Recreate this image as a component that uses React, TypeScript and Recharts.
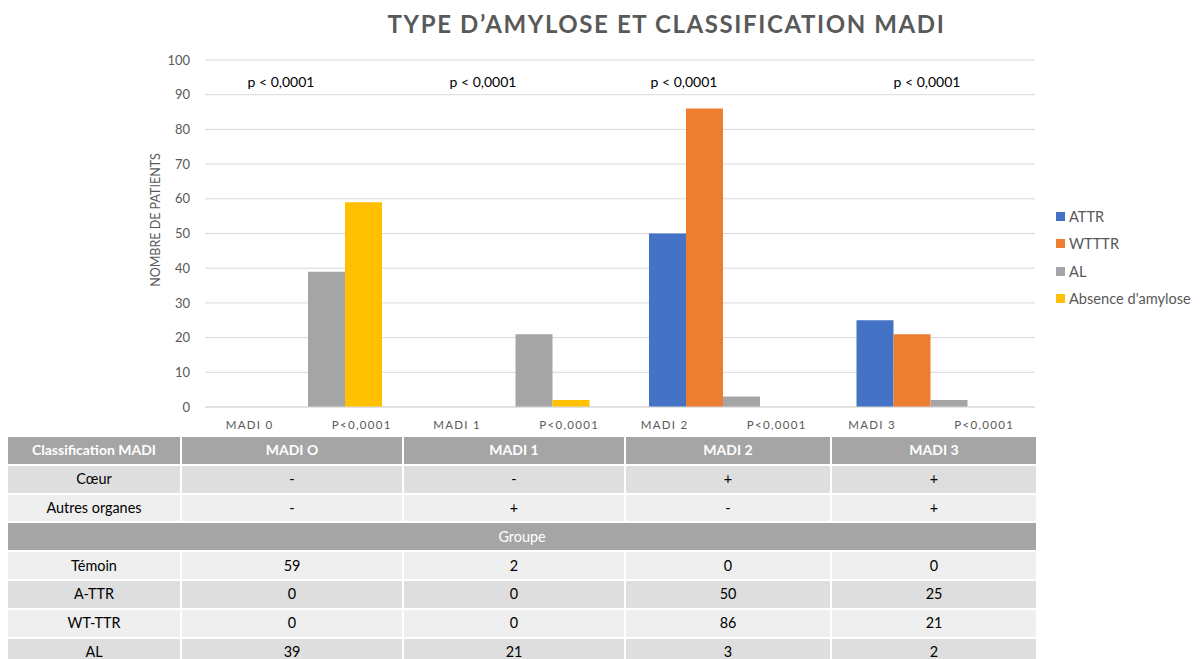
import React from "react";
import { Bar, BarChart, CartesianGrid, Legend, XAxis, YAxis } from "recharts";

const categories = ["MADI 0", "MADI 1", "MADI 2", "MADI 3"];
const axisPValues = ["P<0,0001", "P<0,0001", "P<0,0001", "P<0,0001"];
const topPValues = ["p < 0,0001", "p < 0,0001", "p < 0,0001", "p < 0,0001"];
const attr = [0, 0, 50, 25];
const wtttr = [0, 0, 86, 21];
const al = [39, 21, 3, 2];
const absence = [59, 2, 0, 0];
const yTicks = [0, 10, 20, 30, 40, 50, 60, 70, 80, 90, 100];

const tableHeaders = ["MADI O", "MADI 1", "MADI 2", "MADI 3"];
const coeur = ["-", "-", "+", "+"];
const autresOrganes = ["-", "+", "-", "+"];

const series = [
  { key: "attr", name: "ATTR", color: "#4472C4" },
  { key: "wtttr", name: "WTTTR", color: "#ED7D31" },
  { key: "al", name: "AL", color: "#A5A5A5" },
  { key: "absence", name: "Absence d'amylose", color: "#FFC000" },
];

const data = categories.map((c, i) => ({
  category: c,
  attr: attr[i],
  wtttr: wtttr[i],
  al: al[i],
  absence: absence[i],
}));

const FONT = "Lato, 'Open Sans', sans-serif";
const GREY_TEXT = "#595959";

// positions of the free-floating p-value text boxes (page px)
const pBoxX = [281, 483, 684, 927];

function CategoryTick(props: any) {
  const { x, y, index } = props;
  const style = { fontFamily: FONT, fontSize: 11.5, letterSpacing: 1.3, fill: GREY_TEXT };
  return (
    <g>
      <text x={x - 83} y={y + 22} textAnchor="start" style={style}>
        {categories[index]}
      </text>
      <text x={x + 83} y={y + 22} textAnchor="end" style={style}>
        {axisPValues[index]}
      </text>
    </g>
  );
}

function LegendContent() {
  return (
    <div style={{ fontFamily: FONT }}>
      {series.map((s) => (
        <div key={s.key} style={{ display: "flex", alignItems: "center", height: 27.3 }}>
          <span style={{ width: 9, height: 9, background: s.color, display: "inline-block", marginRight: 4 }} />
          <span style={{ fontSize: 14.6, color: GREY_TEXT }}>{s.name}</span>
        </div>
      ))}
    </div>
  );
}

const colWidths = [174, 222, 222, 206, 206];
const DARK = "#A5A5A5";
const MID = "#DEDEDE";
const LIGHT = "#EFEFEF";
const ROW_H = 26.8;

function Row({ label, values, bg, bold, color }: any) {
  const cell = (w: number): React.CSSProperties => ({
    width: w,
    height: ROW_H,
    background: bg,
    borderRight: "2px solid #fff",
    borderBottom: "2px solid #fff",
    boxSizing: "content-box",
    textAlign: "center",
    verticalAlign: "middle",
    fontWeight: bold ? 700 : 400,
    fontSize: bold ? 14 : 14.4,
    color,
    padding: 0,
    lineHeight: "16px",
  });
  return (
    <tr>
      <td style={cell(colWidths[0] - 2)}>{label}</td>
      {values.map((v: any, i: number) => (
        <td key={i} style={cell(colWidths[i + 1] - 2)}>
          {v}
        </td>
      ))}
    </tr>
  );
}

export default function App() {
  return (
    <div
      style={{
        position: "fixed",
        left: 0,
        top: 0,
        width: 1203,
        height: 659,
        overflow: "hidden",
        background: "#fff",
        fontFamily: FONT,
      }}
    >
      <div
        style={{
          position: "absolute",
          left: 0,
          width: 1333,
          top: 9,
          textAlign: "center",
          fontSize: 24,
          fontWeight: 700,
          letterSpacing: 1.6,
          color: GREY_TEXT,
        }}
      >
        TYPE D’AMYLOSE ET CLASSIFICATION MADI
      </div>

      <div
        style={{
          position: "absolute",
          left: 155,
          top: 220,
          transform: "translate(-50%, -50%) rotate(-90deg)",
          fontSize: 12.5,
          color: GREY_TEXT,
          whiteSpace: "nowrap",
        }}
      >
        NOMBRE DE PATIENTS
      </div>

      <div style={{ position: "absolute", left: 0, top: 0 }}>
        <BarChart
          width={1203}
          height={445}
          data={data}
          margin={{ top: 60, right: 168, bottom: 8, left: 0 }}
          barCategoryGap={29}
          barGap={0}
        >
          <CartesianGrid stroke="#D9D9D9" vertical={false} />
          <XAxis
            dataKey="category"
            height={30}
            tickSize={0}
            tickMargin={0}
            axisLine={{ stroke: "#D9D9D9" }}
            tickLine={false}
            interval={0}
            tick={<CategoryTick />}
          />
          <YAxis
            width={205}
            domain={[0, 100]}
            ticks={yTicks}
            tickSize={0}
            tickMargin={15}
            axisLine={false}
            tickLine={false}
            tick={{ fontFamily: FONT, fontSize: 13, fill: GREY_TEXT }}
          />
          <Legend
            layout="vertical"
            align="center"
            verticalAlign="middle"
            content={<LegendContent />}
            wrapperStyle={{ left: 1056, top: 203, width: 147 }}
          />
          {series.map((s) => (
            <Bar key={s.key} dataKey={s.key} name={s.name} fill={s.color} isAnimationActive={false} />
          ))}
        </BarChart>
      </div>

      {topPValues.map((p, i) => (
        <div
          key={i}
          style={{
            position: "absolute",
            left: pBoxX[i],
            top: 81,
            transform: "translate(-50%, -50%)",
            fontSize: 14,
            color: "#000",
            whiteSpace: "nowrap",
          }}
        >
          {p}
        </div>
      ))}

      <table
        style={{
          position: "absolute",
          left: 8,
          top: 437,
          borderCollapse: "separate",
          borderSpacing: 0,
          fontFamily: FONT,
        }}
      >
        <tbody>
          <Row label="Classification MADI" values={tableHeaders} bg={DARK} bold color="#fff" />
          <Row label="Cœur" values={coeur} bg={MID} color="#000" />
          <Row label="Autres organes" values={autresOrganes} bg={LIGHT} color="#000" />
          <tr>
            <td
              colSpan={5}
              style={{
                height: ROW_H,
                background: DARK,
                color: "#fff",
                textAlign: "center",
                borderBottom: "2px solid #fff",
                borderRight: "2px solid #fff",
                padding: 0,
                fontSize: 14.4,
                lineHeight: "16px",
              }}
            >
              Groupe
            </td>
          </tr>
          <Row label="Témoin" values={absence} bg={LIGHT} color="#000" />
          <Row label="A-TTR" values={attr} bg={MID} color="#000" />
          <Row label="WT-TTR" values={wtttr} bg={LIGHT} color="#000" />
          <Row label="AL" values={al} bg={MID} color="#000" />
        </tbody>
      </table>
    </div>
  );
}
